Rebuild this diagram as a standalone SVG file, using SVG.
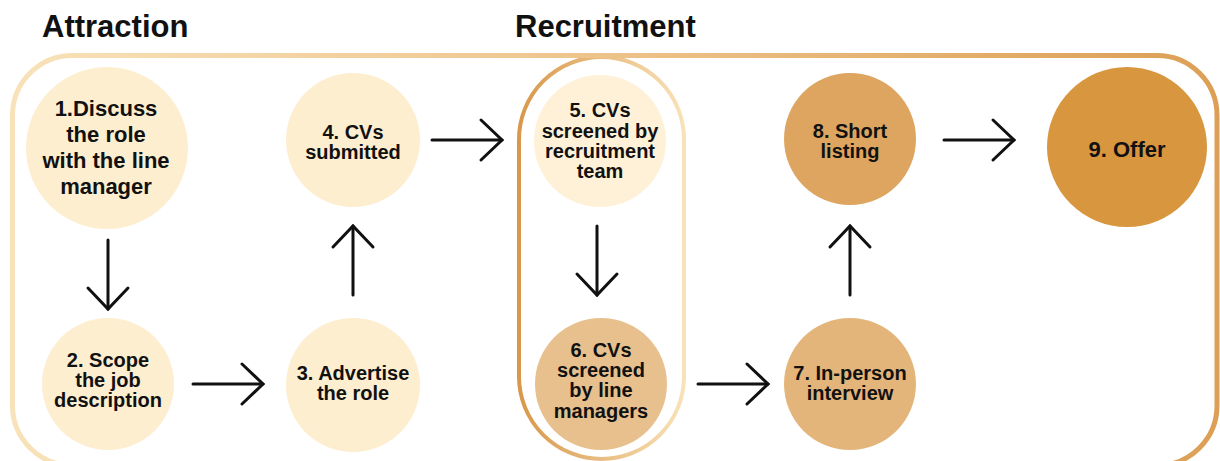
<svg xmlns="http://www.w3.org/2000/svg" width="1220" height="461" viewBox="0 0 1220 461">
  <defs>
    <linearGradient id="frameGrad" x1="0" y1="0" x2="1" y2="0">
      <stop offset="0" stop-color="#f8e2b9"/>
      <stop offset="0.45" stop-color="#efc68e"/>
      <stop offset="1" stop-color="#dc9f55"/>
    </linearGradient>
    <linearGradient id="pillGrad" x1="0" y1="0" x2="1" y2="0">
      <stop offset="0" stop-color="#d8984a"/>
      <stop offset="1" stop-color="#f9e2b8"/>
    </linearGradient>
    <marker id="chev" markerUnits="userSpaceOnUse" viewBox="-24 -23 28 46" refX="0" refY="0" markerWidth="28" markerHeight="46" orient="auto">
      <path d="M-21,-20 L0,0 L-21,20" fill="none" stroke="#111" stroke-width="3" stroke-linecap="round" stroke-linejoin="miter"/>
    </marker>
  </defs>
  <style>
    .title { font-family: "Liberation Sans", Arial, sans-serif; font-weight: 700; font-size: 31px; fill: #111; }
    .lbl { font-family: "Liberation Sans", Arial, sans-serif; font-weight: 700; font-size: 20px; fill: #111; text-anchor: middle; }
    .lbl-lg { font-size: 22px; }
    .pale { fill: #fdeed0; }
    .arrow { fill: none; stroke: #111; stroke-width: 3; stroke-linecap: round; marker-end: url(#chev); }
  </style>

  <rect width="1220" height="461" fill="#ffffff"/>

  <!-- stage headings -->
  <text class="title" x="42" y="37">Attraction</text>
  <text class="title" x="515" y="37">Recruitment</text>

  <!-- screening pill and outer stage frame (frame runs off the bottom edge) -->
  <rect x="519" y="57" width="165" height="402" rx="82.5" ry="82.5" fill="none" stroke="url(#pillGrad)" stroke-width="4"/>
  <rect x="12.5" y="55.5" width="1204.5" height="410" rx="60" ry="60" fill="none" stroke="url(#frameGrad)" stroke-width="5"/>

  <g id="n1">
    <circle class="pale" cx="107" cy="148" r="81"/>
    <text class="lbl lbl-lg" x="106" y="116">1.Discuss</text>
    <text class="lbl lbl-lg" x="106" y="142">the role</text>
    <text class="lbl lbl-lg" x="106" y="168">with the line</text>
    <text class="lbl lbl-lg" x="106" y="194">manager</text>
  </g>
  <g id="n2">
    <circle class="pale" cx="108" cy="384" r="66"/>
    <text class="lbl" x="108" y="367">2. Scope</text>
    <text class="lbl" x="108" y="387">the job</text>
    <text class="lbl" x="108" y="407">description</text>
  </g>
  <g id="n3">
    <circle class="pale" cx="353" cy="385" r="67"/>
    <text class="lbl" x="353" y="380">3. Advertise</text>
    <text class="lbl" x="353" y="400">the role</text>
  </g>
  <g id="n4">
    <circle class="pale" cx="353" cy="140" r="67"/>
    <text class="lbl" x="353" y="139">4. CVs</text>
    <text class="lbl" x="353" y="159">submitted</text>
  </g>
  <g id="n5">
    <circle cx="600" cy="141" r="66" fill="#fef1d8"/>
    <text class="lbl" x="600" y="117">5. CVs</text>
    <text class="lbl" x="600" y="138">screened by</text>
    <text class="lbl" x="600" y="158">recruitment</text>
    <text class="lbl" x="600" y="178">team</text>
  </g>
  <g id="n6">
    <circle cx="601" cy="384" r="66" fill="#e8c08e"/>
    <text class="lbl" x="601" y="357">6. CVs</text>
    <text class="lbl" x="601" y="377">screened</text>
    <text class="lbl" x="601" y="397">by line</text>
    <text class="lbl" x="601" y="418">managers</text>
  </g>
  <g id="n7">
    <circle cx="850" cy="384" r="66" fill="#e4b57a"/>
    <text class="lbl" x="850" y="380">7. In-person</text>
    <text class="lbl" x="850" y="400">interview</text>
  </g>
  <g id="n8">
    <circle cx="850" cy="139" r="66" fill="#dda55f"/>
    <text class="lbl" x="850" y="138">8. Short</text>
    <text class="lbl" x="850" y="158">listing</text>
  </g>
  <g id="n9">
    <circle cx="1127" cy="147" r="80" fill="#d8963f"/>
    <text class="lbl lbl-lg" x="1127" y="157">9. Offer</text>
  </g>

  <g id="connectors">
    <line class="arrow" x1="108" y1="240" x2="108" y2="309"/>
    <line class="arrow" x1="193" y1="384" x2="263" y2="384"/>
    <line class="arrow" x1="353" y1="295" x2="353" y2="226"/>
    <line class="arrow" x1="432" y1="140" x2="502" y2="140"/>
    <line class="arrow" x1="597" y1="226" x2="597" y2="295"/>
    <line class="arrow" x1="698" y1="384" x2="768" y2="384"/>
    <line class="arrow" x1="850" y1="295" x2="850" y2="226"/>
    <line class="arrow" x1="944" y1="140" x2="1014" y2="140"/>
  </g>
</svg>
